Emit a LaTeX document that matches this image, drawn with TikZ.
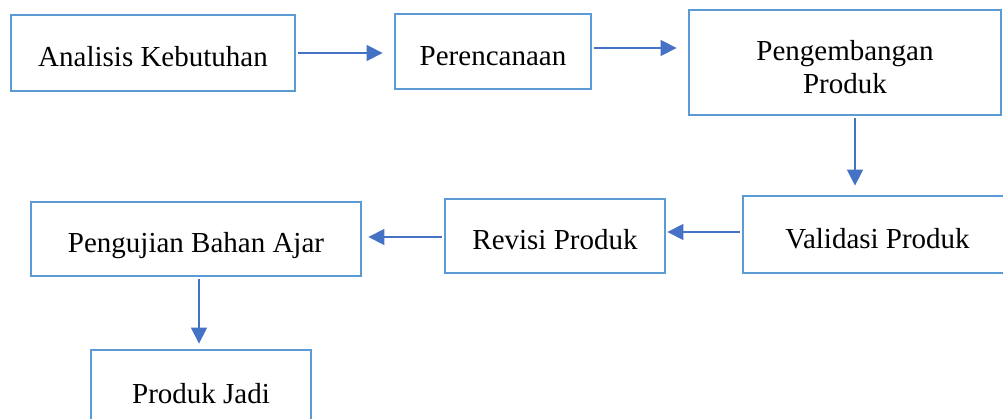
\documentclass[tikz,border=0pt]{standalone}
\usepackage{fontspec}
\setmainfont{Liberation Serif}
\usetikzlibrary{arrows.meta}
\definecolor{boxblue}{HTML}{5B9BD5}
\definecolor{arrowblue}{HTML}{4472C4}
\tikzset{
  flowbox/.style={draw=boxblue, line width=2.8pt, fill=white, inner sep=0pt,
    align=center, font=\fontsize{29}{33}\selectfont, text=black,
    text height=28pt, text depth=0pt},
  flowtext/.style={align=center, font=\fontsize{29}{33}\selectfont, text=black, inner sep=0pt},
  flowarrow/.style={draw=arrowblue, line width=1.3pt,
    -{Triangle[length=16pt,width=16pt]}, arrowblue}
}
\begin{document}
\begin{tikzpicture}[x=1pt,y=-1pt]
\useasboundingbox (0,0) rectangle (1003,419);
\node[flowbox, minimum width=284pt, minimum height=76pt] (ak) at (153,53) {Analisis Kebutuhan};
\node[flowbox, minimum width=196pt, minimum height=75pt] (pr) at (493,51.5) {Perencanaan};
\node[draw=boxblue, line width=2.8pt, fill=white, inner sep=0pt, minimum width=312pt, minimum height=105pt,
  label={[flowtext, yshift=-5pt]center:Pengembangan\\Produk}] (pp) at (845,62.5) {};
\node[flowbox, minimum width=269pt, minimum height=77pt] (vp) at (877.5,234.5) {Validasi Produk};
\node[flowbox, minimum width=220pt, minimum height=74pt] (rp) at (555,236) {Revisi Produk};
\node[flowbox, minimum width=330pt, minimum height=74pt] (pb) at (196,239) {Pengujian Bahan Ajar};
\node[flowbox, minimum width=220pt, minimum height=78pt] (pj) at (201,389) {Produk Jadi};
\coordinate (a1s) at ([yshift=0pt]ak.east);
\draw[flowarrow, shorten >=11pt] ([xshift=1.5pt]a1s) -- (a1s -| pr.west);
\coordinate (a2s) at ([yshift=3.5pt]pr.east);
\draw[flowarrow, shorten >=11pt] ([xshift=1.5pt]a2s) -- (a2s -| pp.west);
\coordinate (a3s) at ([xshift=10pt]pp.south);
\draw[flowarrow, shorten >=9pt] ([yshift=-1.5pt]a3s) -- (a3s |- vp.north);
\coordinate (a4s) at ([yshift=2.5pt]vp.west);
\draw[flowarrow, shorten >=1pt] ([xshift=-1.5pt]a4s) -- (a4s -| rp.east);
\coordinate (a5s) at ([yshift=-1pt]rp.west);
\draw[flowarrow, shorten >=6pt] ([xshift=-1.5pt]a5s) -- (a5s -| pb.east);
\coordinate (a6s) at ([xshift=3pt]pb.south);
\draw[flowarrow, shorten >=5pt] ([yshift=-1.5pt]a6s) -- (a6s |- pj.north);
\end{tikzpicture}
\end{document}
